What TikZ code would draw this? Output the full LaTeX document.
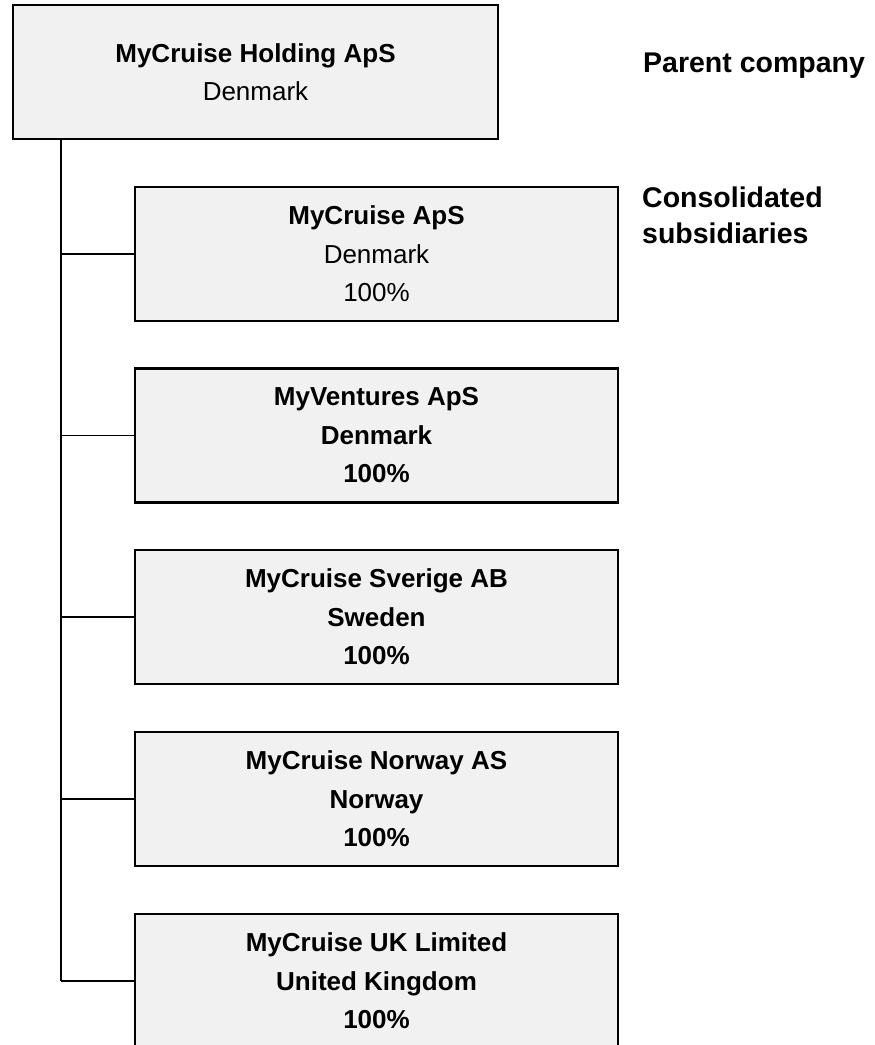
\documentclass[tikz,border=0pt]{standalone}
\usepackage{fontspec}
\setmainfont{Liberation Sans}
\begin{document}
\begin{tikzpicture}[x=1pt,y=-1pt,
  box/.style={draw=black,line width=2.5pt,fill=boxgray,inner sep=0pt,
    minimum height=134pt,align=center,
    font=\fontsize{26}{38.5}\selectfont},
  topbox/.style={box,minimum width=485pt},
  subbox/.style={box,minimum width=483pt},
  trunk/.style={line width=2pt,black},
  branch/.style={line width=1.5pt,black},
  label/.style={inner sep=0pt,align=left,font=\fontsize{28.5}{36}\selectfont\bfseries}
]
\definecolor{boxgray}{RGB}{241,241,241}
\useasboundingbox (0,0) rectangle (875,1045);
\clip (0,0) rectangle (875,1045);

\node[topbox] (top) at (255.5,72) {\textbf{MyCruise Holding ApS}\\Denmark};
\node[subbox] (b1) at (376.5,254) {\textbf{MyCruise ApS}\\Denmark\\100\%};
\node[subbox] (b2) at (376.5,435.5) {\textbf{MyVentures ApS}\\\textbf{Denmark}\\\textbf{100\%}};
\node[subbox] (b3) at (376.5,617) {\textbf{MyCruise Sverige AB}\\\textbf{Sweden}\\\textbf{100\%}};
\node[subbox] (b4) at (376.5,799) {\textbf{MyCruise Norway AS}\\\textbf{Norway}\\\textbf{100\%}};
\node[subbox] (b5) at (376.5,981) {\textbf{MyCruise UK Limited}\\\textbf{United Kingdom}\\\textbf{100\%}};

\node[label,anchor=base west] (parent) at (643,72) {Parent company};
\node[label,anchor=north west] (cons) at (642,187) {Consolidated\\subsidiaries};

\coordinate (tstart) at (61,139);
\coordinate (tend) at (61,981);
\draw[trunk] (tstart) -- (tend);
\foreach \b in {b1,b2,b3,b4,b5}
  \draw[branch] (\b.west -| tstart) -- (\b.west);
\end{tikzpicture}
\end{document}
